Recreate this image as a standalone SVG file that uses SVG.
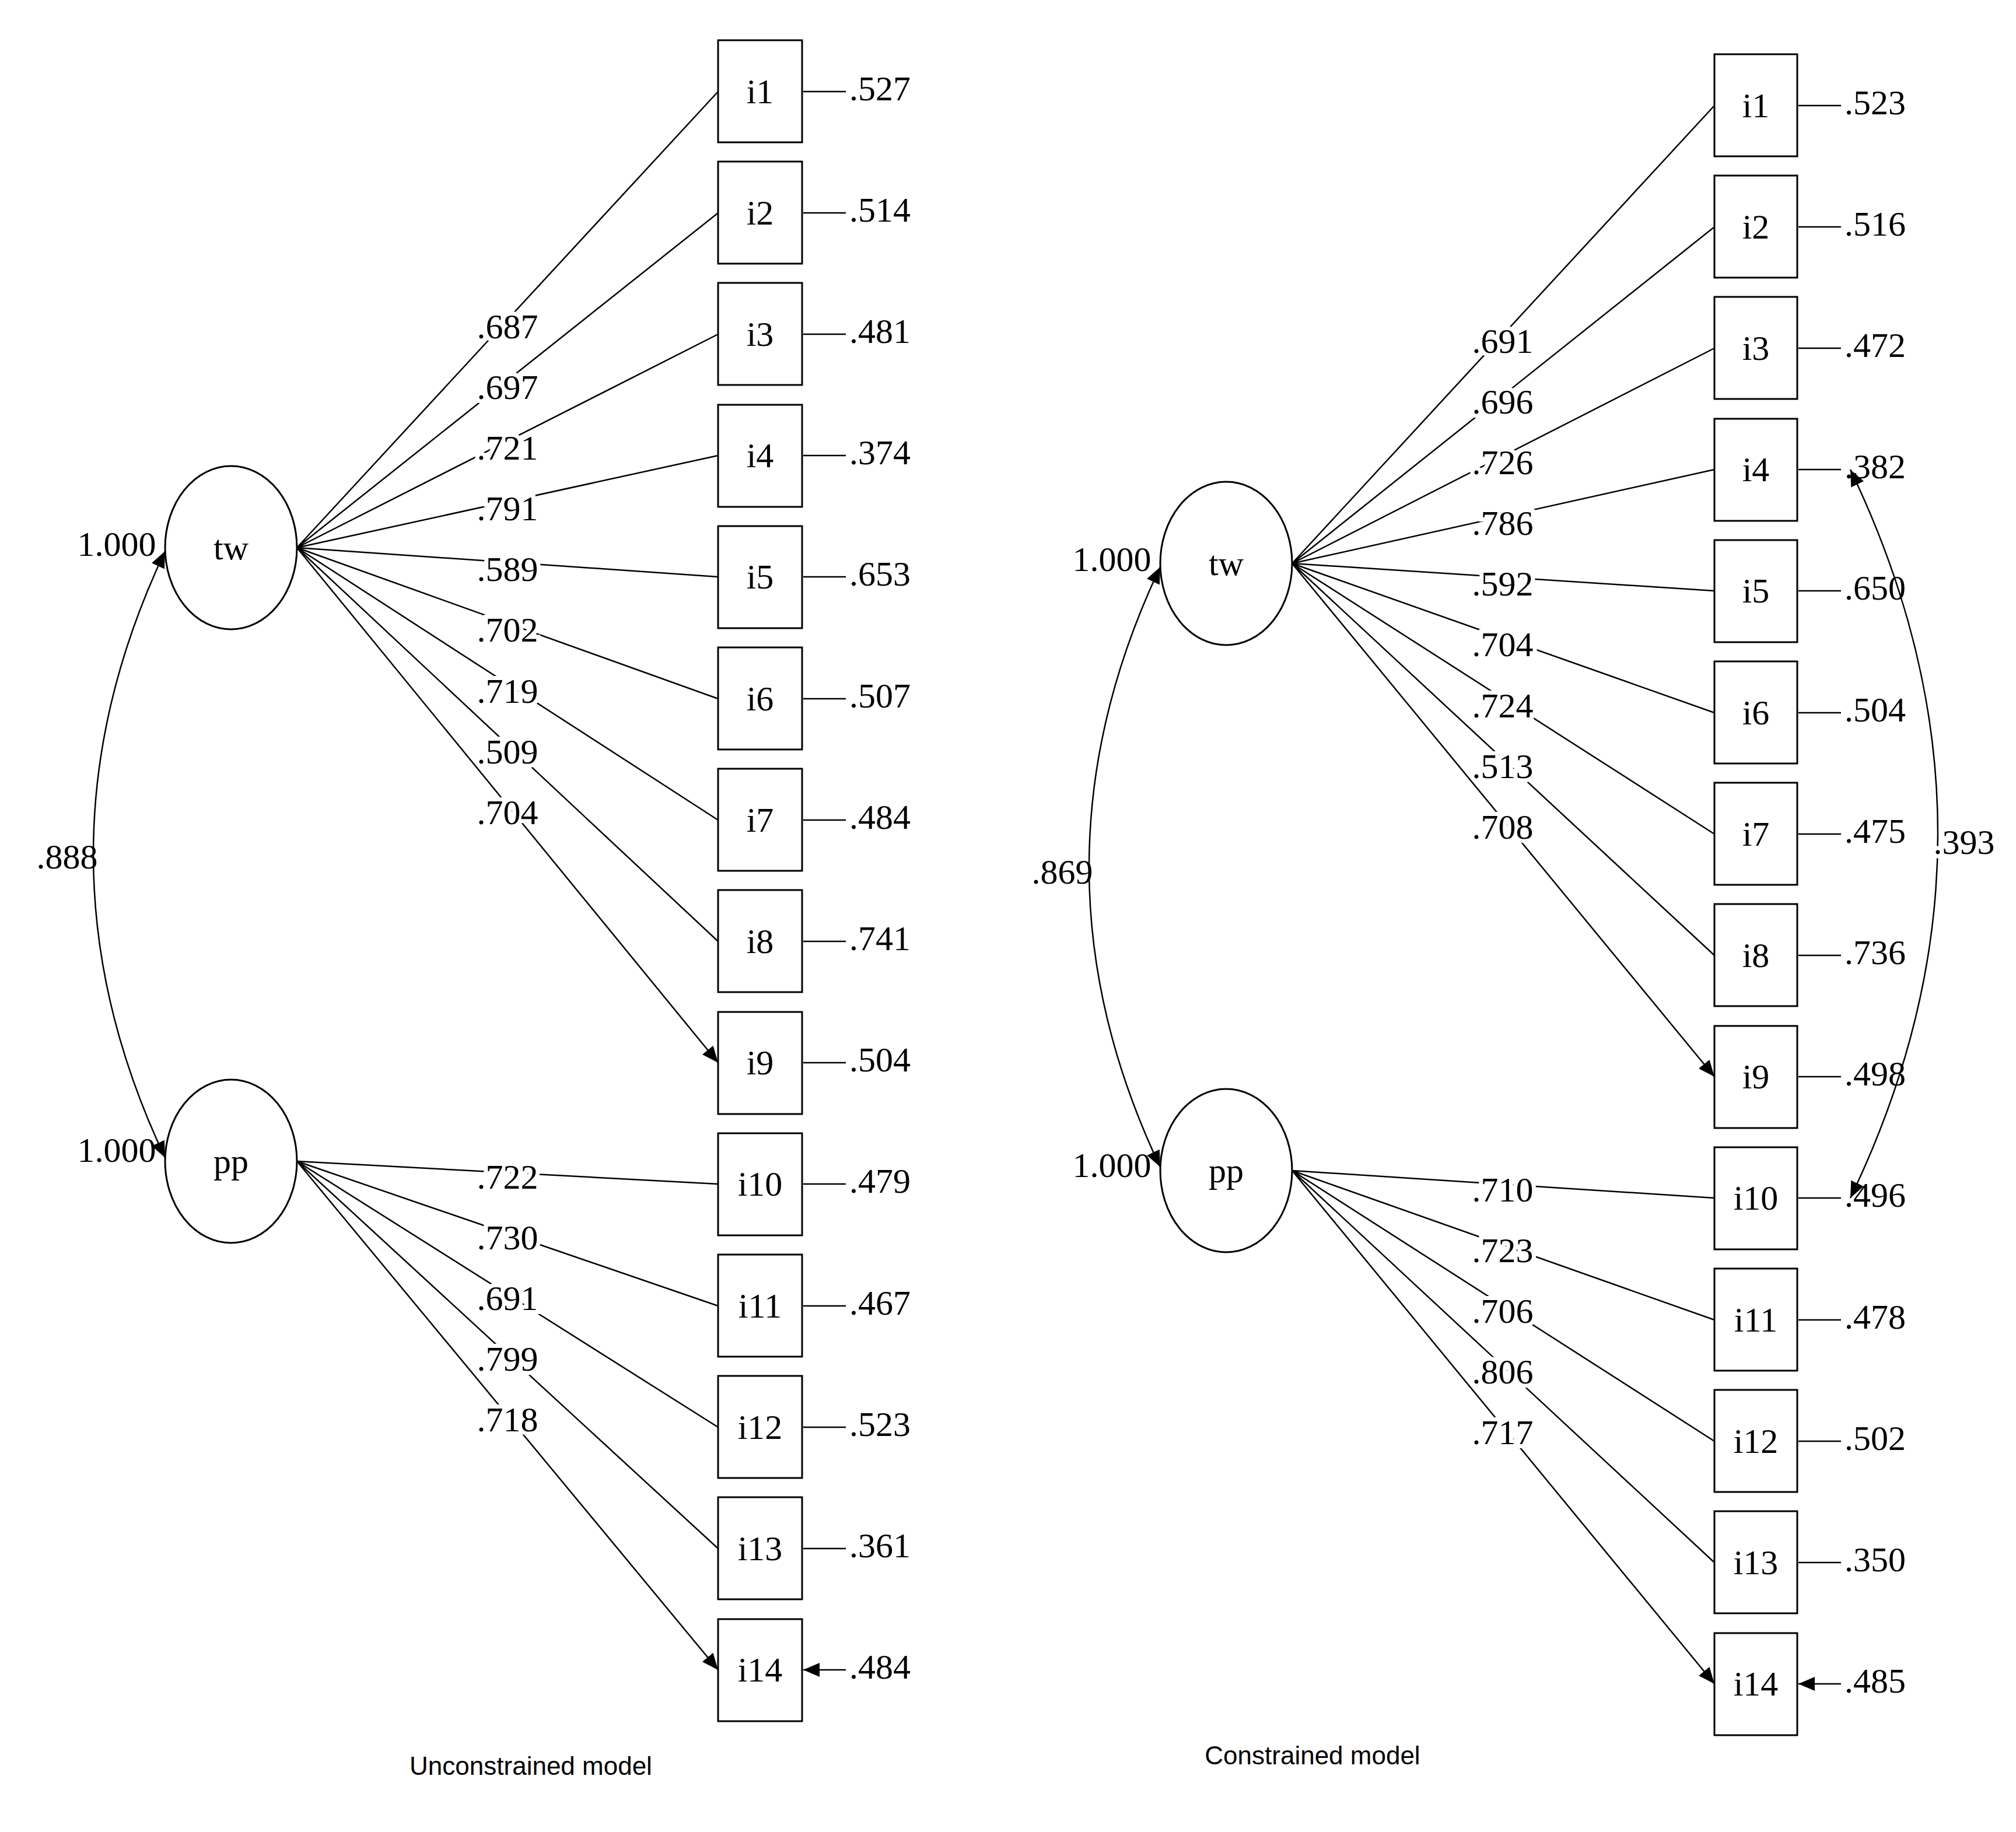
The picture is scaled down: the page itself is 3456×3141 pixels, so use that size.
<svg xmlns="http://www.w3.org/2000/svg" width="3456" height="3141" viewBox="0 0 3456 3141">
<style>
.t{font-family:"Liberation Serif",serif;font-size:60px;fill:#000}
.m{text-anchor:middle}
.h{stroke:#fff;stroke-width:14px;paint-order:stroke}
.ln{stroke:#000;stroke-width:2.5;fill:none;marker-end:url(#a)}
.arc{stroke:#000;stroke-width:2.5;fill:none;marker-end:url(#a);marker-start:url(#b)}
.box{fill:#fff;stroke:#000;stroke-width:3}
.cap{font-family:"Liberation Sans",sans-serif;font-size:44px;text-anchor:middle}
</style>
<defs>
<marker id="a" markerUnits="userSpaceOnUse" markerWidth="30" markerHeight="24" refX="28" refY="12" orient="auto"><path d="M0,0L28,12L0,24z"/></marker>
<marker id="b" markerUnits="userSpaceOnUse" markerWidth="30" markerHeight="24" refX="0" refY="12" orient="auto"><path d="M28,0L0,12L28,24z"/></marker>
</defs>
<rect width="3456" height="3141" fill="#fff"/>
<g id="connectors">
<path class="ln" d="M509,939L1231,157M509,939L1231,365M509,939L1231,573M509,939L1231,781M509,939L1231,989M509,939L1231,1198M509,939L1231,1406M509,939L1231,1614M509,939L1231,1822"/>
<path class="ln" d="M509,1991L1231,2030M509,1991L1231,2239M509,1991L1231,2447M509,1991L1231,2655M509,1991L1231,2863"/>
<path class="ln" d="M2215,966L2939,181M2215,966L2939,389M2215,966L2939,597M2215,966L2939,805M2215,966L2939,1013M2215,966L2939,1222M2215,966L2939,1430M2215,966L2939,1638M2215,966L2939,1846"/>
<path class="ln" d="M2215,2007L2939,2054M2215,2007L2939,2263M2215,2007L2939,2471M2215,2007L2939,2679M2215,2007L2939,2887"/>
<path class="ln" d="M1450,157H1377M1450,365H1377M1450,573H1377M1450,781H1377M1450,989H1377M1450,1198H1377M1450,1406H1377M1450,1614H1377M1450,1822H1377M1450,2030H1377M1450,2239H1377M1450,2447H1377M1450,2655H1377M1450,2863H1377"/>
<path class="ln" d="M3156,181H3083M3156,389H3083M3156,597H3083M3156,805H3083M3156,1013H3083M3156,1222H3083M3156,1430H3083M3156,1638H3083M3156,1846H3083M3156,2054H3083M3156,2263H3083M3156,2471H3083M3156,2679H3083M3156,2887H3083"/>
<path class="arc" d="M283,945Q37,1465 283,1985"/>
<path class="arc" d="M1989,972Q1745,1487 1989,2001"/>
<path class="arc" d="M3172,805Q3472,1430 3172,2054"/>
</g>
<g id="tw1"><ellipse cx="396" cy="939" rx="113" ry="140" fill="#fff" stroke="#000" stroke-width="3"/><text class="t m" x="396" y="959">tw</text></g>
<g id="pp1"><ellipse cx="396" cy="1991" rx="113" ry="140" fill="#fff" stroke="#000" stroke-width="3"/><text class="t m" x="396" y="2011">pp</text></g>
<g id="tw2"><ellipse cx="2102" cy="966" rx="113" ry="140" fill="#fff" stroke="#000" stroke-width="3"/><text class="t m" x="2102" y="986">tw</text></g>
<g id="pp2"><ellipse cx="2102" cy="2007" rx="113" ry="140" fill="#fff" stroke="#000" stroke-width="3"/><text class="t m" x="2102" y="2027">pp</text></g>
<g id="boxesL" class="t m">
<g id="L1"><rect class="box" x="1231" y="69" width="144" height="175"/><text x="1303" y="177">i1</text></g>
<g id="L2"><rect class="box" x="1231" y="277" width="144" height="175"/><text x="1303" y="385">i2</text></g>
<g id="L3"><rect class="box" x="1231" y="485" width="144" height="175"/><text x="1303" y="593">i3</text></g>
<g id="L4"><rect class="box" x="1231" y="694" width="144" height="175"/><text x="1303" y="801">i4</text></g>
<g id="L5"><rect class="box" x="1231" y="902" width="144" height="175"/><text x="1303" y="1009">i5</text></g>
<g id="L6"><rect class="box" x="1231" y="1110" width="144" height="175"/><text x="1303" y="1218">i6</text></g>
<g id="L7"><rect class="box" x="1231" y="1318" width="144" height="175"/><text x="1303" y="1426">i7</text></g>
<g id="L8"><rect class="box" x="1231" y="1526" width="144" height="175"/><text x="1303" y="1634">i8</text></g>
<g id="L9"><rect class="box" x="1231" y="1735" width="144" height="175"/><text x="1303" y="1842">i9</text></g>
<g id="L10"><rect class="box" x="1231" y="1943" width="144" height="175"/><text x="1303" y="2050">i10</text></g>
<g id="L11"><rect class="box" x="1231" y="2151" width="144" height="175"/><text x="1303" y="2259">i11</text></g>
<g id="L12"><rect class="box" x="1231" y="2359" width="144" height="175"/><text x="1303" y="2467">i12</text></g>
<g id="L13"><rect class="box" x="1231" y="2567" width="144" height="175"/><text x="1303" y="2675">i13</text></g>
<g id="L14"><rect class="box" x="1231" y="2776" width="144" height="175"/><text x="1303" y="2883">i14</text></g>
</g>
<g id="boxesR" class="t m">
<g id="R1"><rect class="box" x="2939" y="93" width="142" height="175"/><text x="3010" y="201">i1</text></g>
<g id="R2"><rect class="box" x="2939" y="301" width="142" height="175"/><text x="3010" y="409">i2</text></g>
<g id="R3"><rect class="box" x="2939" y="509" width="142" height="175"/><text x="3010" y="617">i3</text></g>
<g id="R4"><rect class="box" x="2939" y="718" width="142" height="175"/><text x="3010" y="825">i4</text></g>
<g id="R5"><rect class="box" x="2939" y="926" width="142" height="175"/><text x="3010" y="1033">i5</text></g>
<g id="R6"><rect class="box" x="2939" y="1134" width="142" height="175"/><text x="3010" y="1242">i6</text></g>
<g id="R7"><rect class="box" x="2939" y="1342" width="142" height="175"/><text x="3010" y="1450">i7</text></g>
<g id="R8"><rect class="box" x="2939" y="1550" width="142" height="175"/><text x="3010" y="1658">i8</text></g>
<g id="R9"><rect class="box" x="2939" y="1759" width="142" height="175"/><text x="3010" y="1866">i9</text></g>
<g id="R10"><rect class="box" x="2939" y="1967" width="142" height="175"/><text x="3010" y="2074">i10</text></g>
<g id="R11"><rect class="box" x="2939" y="2175" width="142" height="175"/><text x="3010" y="2283">i11</text></g>
<g id="R12"><rect class="box" x="2939" y="2383" width="142" height="175"/><text x="3010" y="2491">i12</text></g>
<g id="R13"><rect class="box" x="2939" y="2591" width="142" height="175"/><text x="3010" y="2699">i13</text></g>
<g id="R14"><rect class="box" x="2939" y="2800" width="142" height="175"/><text x="3010" y="2907">i14</text></g>
</g>
<g id="loadingsL" class="t m h">
<text x="870" y="580">.687</text><text x="870" y="684">.697</text><text x="870" y="788">.721</text><text x="870" y="892">.791</text><text x="870" y="996">.589</text><text x="870" y="1100">.702</text><text x="870" y="1205">.719</text><text x="870" y="1309">.509</text><text x="870" y="1413">.704</text>
<text x="870" y="2038">.722</text><text x="870" y="2142">.730</text><text x="870" y="2246">.691</text><text x="870" y="2350">.799</text><text x="870" y="2454">.718</text>
</g>
<g id="loadingsR" class="t m h">
<text x="2576" y="605">.691</text><text x="2576" y="709">.696</text><text x="2576" y="813">.726</text><text x="2576" y="917">.786</text><text x="2576" y="1021">.592</text><text x="2576" y="1125">.704</text><text x="2576" y="1230">.724</text><text x="2576" y="1334">.513</text><text x="2576" y="1438">.708</text>
<text x="2576" y="2060">.710</text><text x="2576" y="2164">.723</text><text x="2576" y="2268">.706</text><text x="2576" y="2372">.806</text><text x="2576" y="2476">.717</text>
</g>
<g id="errorsL" class="t">
<text x="1456" y="172">.527</text><text x="1456" y="380">.514</text><text x="1456" y="588">.481</text><text x="1456" y="796">.374</text><text x="1456" y="1004">.653</text><text x="1456" y="1213">.507</text><text x="1456" y="1421">.484</text><text x="1456" y="1629">.741</text><text x="1456" y="1837">.504</text><text x="1456" y="2045">.479</text><text x="1456" y="2254">.467</text><text x="1456" y="2462">.523</text><text x="1456" y="2670">.361</text><text x="1456" y="2878">.484</text>
</g>
<g id="errorsR" class="t">
<text x="3162" y="196">.523</text><text x="3162" y="404">.516</text><text x="3162" y="612">.472</text><text x="3162" y="820">.382</text><text x="3162" y="1028">.650</text><text x="3162" y="1237">.504</text><text x="3162" y="1445">.475</text><text x="3162" y="1653">.736</text><text x="3162" y="1861">.498</text><text x="3162" y="2069">.496</text><text x="3162" y="2278">.478</text><text x="3162" y="2486">.502</text><text x="3162" y="2694">.350</text><text x="3162" y="2902">.485</text>
</g>
<g id="covlabels" class="t m">
<text x="200" y="953">1.000</text><text x="200" y="1992">1.000</text><text x="115" y="1489">.888</text>
<text x="1906" y="979">1.000</text><text x="1906" y="2018">1.000</text><text x="1821" y="1515">.869</text>
<text class="h" x="3367" y="1464">.393</text>
</g>
<text class="cap" x="910" y="3043">Unconstrained model</text>
<text class="cap" x="2250" y="3025">Constrained model</text>
</svg>
